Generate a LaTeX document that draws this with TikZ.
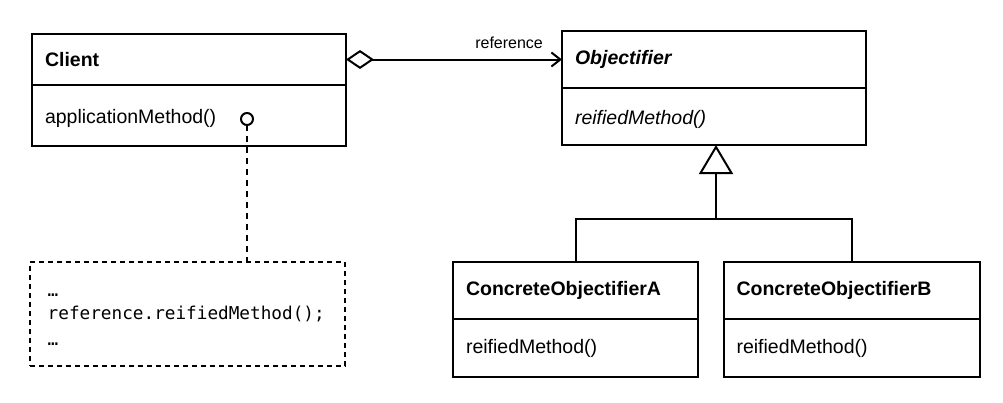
\documentclass[tikz,border=0pt]{standalone}
\usepackage{fontspec}
\setmainfont{Liberation Sans}
\newfontfamily\codefont{DejaVu Sans Mono}
\usetikzlibrary{arrows.meta}
\begin{document}
\begin{tikzpicture}[x=1pt,y=-1pt,
  cls/.style={draw, line width=2pt, inner xsep=13pt, inner ysep=0pt, outer sep=0pt,
    anchor=north west, align=left, font=\fontsize{19.5}{23}\selectfont},
  lowtext/.style={text height=20pt, text depth=4.5pt},
  conn/.style={line width=2pt},
  codeline/.style={anchor=base west, inner sep=0pt, font=\codefont\fontsize{17.7}{21}\selectfont},
  notebox/.style={draw, line width=1.6pt, dash pattern=on 5pt off 4pt, outer sep=0pt, anchor=north west},
  dashline/.style={line width=1.6pt, dash pattern=on 6pt off 5pt}
]
\useasboundingbox (0,0) rectangle (1003,402);
\fill[white] (0,0) rectangle (1003,402);

% Client
\node[cls, text width=288pt, minimum height=51pt] (clientH) at (32,34) {\textbf{Client}};
\node[cls, lowtext, text width=288pt, minimum height=61pt] (clientB) at (32,85) {applicationMethod()};

% Objectifier
\node[cls, text width=278pt, minimum height=57pt] (objH) at (562,31) {\textbf{\textit{Objectifier}}};
\node[cls, lowtext, text width=278pt, minimum height=57pt] (objB) at (562,88) {\textit{reifiedMethod()}};

% ConcreteObjectifierA
\node[cls, text width=219pt, minimum height=57pt] (aH) at (453,262) {\textbf{ConcreteObjectifierA}};
\node[cls, text width=219pt, minimum height=58pt] (aB) at (453,319) {reifiedMethod()};

% ConcreteObjectifierB
\node[cls, text width=230pt, minimum height=57pt] (bH) at (723.5,262) {\textbf{ConcreteObjectifierB}};
\node[cls, text width=230pt, minimum height=58pt] (bB) at (723.5,319) {reifiedMethod()};

% Note
\node[notebox, minimum width=315pt, minimum height=104pt] (note) at (30,262) {};
\node[codeline] (l1) at (47.5,296) {…};
\node[codeline] (l2) at (47.5,319) {reference.reifiedMethod();};
\node[codeline] (l3) at (47.5,345) {…};

% Note anchor circle and dashed link
\node[circle, draw, line width=2pt, fill=white, minimum size=12pt, inner sep=0pt, outer sep=0pt] (dot) at (247,119) {};
\draw[dashline] (dot.south) -- (dot.south |- note.north);

% Aggregation
\draw[conn, {Diamond[open, length=28pt, width=19pt]}-{Straight Barb[length=9pt, width=14pt]}]
  (clientH.east) -- node[pos=0.755, above=7pt, inner sep=3pt, font=\fontsize{16}{19}\selectfont] (reflabel) {reference} (objH.west);

% Generalization
\coordinate (join) at (716,219);
\draw[conn] (aH.north) |- (join) -| (bH.north);
\draw[conn, -{Triangle[open, length=29pt, width=34pt]}] (join) -- (join |- objB.south);
\end{tikzpicture}
\end{document}
